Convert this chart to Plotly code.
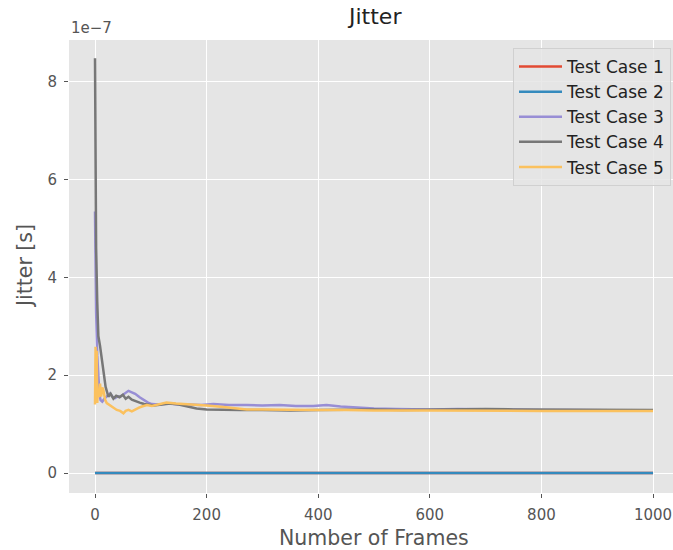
import plotly.graph_objects as go

# ---- data (jitter values in units of 1e-7 s) ----
names = ["Test Case 1", "Test Case 2", "Test Case 3", "Test Case 4", "Test Case 5"]
colors = ["#E24A33", "#348ABD", "#988ED5", "#777777", "#FBC15E"]

tc1_x = [0, 1000]
tc1_y = [0.0, 0.0]

tc2_x = [0, 1000]
tc2_y = [0.0, 0.0]

tc3_x = [0, 1, 2, 4, 6, 8, 10, 13, 17, 22, 27, 32, 36, 41, 45, 50, 55, 60, 66, 72,
         80, 87, 95, 102, 115, 130, 150, 170, 190, 212, 240, 272, 300, 331, 360, 391,
         415, 440, 470, 500, 540, 600, 650, 700, 750, 800, 850, 900, 950, 1000]
tc3_y = [5.35, 4.2, 3.3, 2.4, 1.97, 1.60, 1.49, 1.46, 1.52, 1.58, 1.63, 1.55, 1.53, 1.57,
         1.56, 1.60, 1.64, 1.68, 1.65, 1.62, 1.55, 1.49, 1.44, 1.41, 1.40, 1.42, 1.40,
         1.40, 1.39, 1.41, 1.39, 1.39, 1.38, 1.39, 1.37, 1.37, 1.39, 1.36, 1.34, 1.32,
         1.31, 1.30, 1.31, 1.30, 1.30, 1.29, 1.29, 1.29, 1.28, 1.28]

tc4_x = [0, 1, 2, 4, 6, 9, 12, 15, 19, 24, 28, 33, 38, 44, 50, 55, 60, 66, 72, 80,
         88, 96, 105, 120, 135, 150, 165, 182, 200, 230, 260, 300, 350, 400, 450, 500,
         550, 600, 650, 700, 750, 800, 850, 900, 950, 1000]
tc4_y = [8.48, 6.0, 4.6, 3.5, 2.8, 2.6, 2.35, 2.17, 1.76, 1.56, 1.62, 1.52, 1.58, 1.55,
         1.60, 1.52, 1.56, 1.50, 1.47, 1.44, 1.41, 1.39, 1.38, 1.40, 1.42, 1.40, 1.36,
         1.32, 1.30, 1.29, 1.29, 1.29, 1.28, 1.29, 1.30, 1.30, 1.29, 1.30, 1.31, 1.31,
         1.30, 1.30, 1.30, 1.30, 1.29, 1.29]

tc5_x = [0, 1, 2, 3, 4, 5, 7, 9, 11, 13, 15, 18, 21, 25, 30, 35, 39, 45, 51, 55, 60,
         66, 72, 78, 84, 93, 102, 115, 128, 145, 165, 180, 200, 230, 272, 300, 350,
         400, 450, 500, 600, 700, 800, 900, 1000]
tc5_y = [1.40, 2.58, 1.45, 2.50, 1.43, 1.70, 1.55, 1.83, 1.56, 1.75, 1.70, 1.50, 1.43,
         1.40, 1.36, 1.33, 1.29, 1.27, 1.22, 1.27, 1.29, 1.26, 1.30, 1.33, 1.36, 1.39,
         1.37, 1.40, 1.44, 1.42, 1.41, 1.39, 1.38, 1.35, 1.30, 1.30, 1.29, 1.29, 1.29,
         1.28, 1.28, 1.27, 1.27, 1.27, 1.27]

x_ticks = [0, 200, 400, 600, 800, 1000]
y_ticks = [0, 2, 4, 6, 8]

series = [(tc1_x, tc1_y), (tc2_x, tc2_y), (tc3_x, tc3_y), (tc4_x, tc4_y), (tc5_x, tc5_y)]

W, H = 673, 550
L, R, T, B = 69, 0, 40, 57
PW, PH = W - L - R, H - T - B
FONT = "DejaVu Sans"


def px_x(x):
    return (x - L) / PW


def px_y(y):
    return 1 - (y - T) / PH


fig = go.Figure()
for (xs, ys), name, col in zip(series, names, colors):
    fig.add_trace(go.Scatter(x=xs, y=ys, mode="lines", name=name, legendgroup=name,
                             line=dict(color=col, width=2.5)))

fig.update_layout(
    width=W, height=H,
    margin=dict(l=L, r=R, t=T, b=B),
    paper_bgcolor="white",
    plot_bgcolor="#E5E5E5",
    font=dict(family=FONT, color="#555555", size=15),
    showlegend=True,
    legend=dict(x=px_x(513), xanchor="left", y=px_y(48), yanchor="top",
                bgcolor="rgba(229,229,229,0.85)", bordercolor="#D0D0D0", borderwidth=1,
                font=dict(family=FONT, size=17, color="#222222"),
                tracegroupgap=0, itemwidth=43),
)
fig.update_xaxes(range=[-46.6, 1035.8], tickvals=x_ticks, ticktext=[str(v) for v in x_ticks],
                 showgrid=True, gridcolor="white", gridwidth=1.3, zeroline=False,
                 ticks="outside", ticklen=4, tickcolor="#555555", tickwidth=1,
                 tickfont=dict(family=FONT, size=15, color="#555555"),
                 ticklabelstandoff=4, showline=False)
fig.update_yaxes(range=[-0.409, 8.855], tickvals=y_ticks, ticktext=[str(v) for v in y_ticks],
                 showgrid=True, gridcolor="white", gridwidth=1.3, zeroline=False,
                 ticks="outside", ticklen=4, tickcolor="#555555", tickwidth=1,
                 tickfont=dict(family=FONT, size=15, color="#555555"),
                 ticklabelstandoff=4, showline=False)

fig.add_annotation(text="Jitter", xref="paper", yref="paper",
                   x=px_x(374), y=px_y(17),
                   xanchor="center", yanchor="middle", showarrow=False,
                   font=dict(family=FONT, size=22, color="#222222"))
fig.add_annotation(text="Number of Frames", xref="paper", yref="paper",
                   x=px_x(374), y=px_y(538),
                   xanchor="center", yanchor="middle", showarrow=False,
                   font=dict(family=FONT, size=20.5, color="#555555"))
fig.add_annotation(text="Jitter [s]", xref="paper", yref="paper",
                   x=px_x(25), y=px_y(266), textangle=-90,
                   xanchor="center", yanchor="middle", showarrow=False,
                   font=dict(family=FONT, size=20.5, color="#555555"))
fig.add_annotation(text="1e\u22127", xref="paper", yref="paper",
                   x=px_x(69), y=px_y(28),
                   xanchor="left", yanchor="middle", showarrow=False,
                   font=dict(family=FONT, size=15, color="#555555"))

fig.write_html("out.html", config={"displayModeBar": False},
               post_script="document.body.style.margin='0';")
